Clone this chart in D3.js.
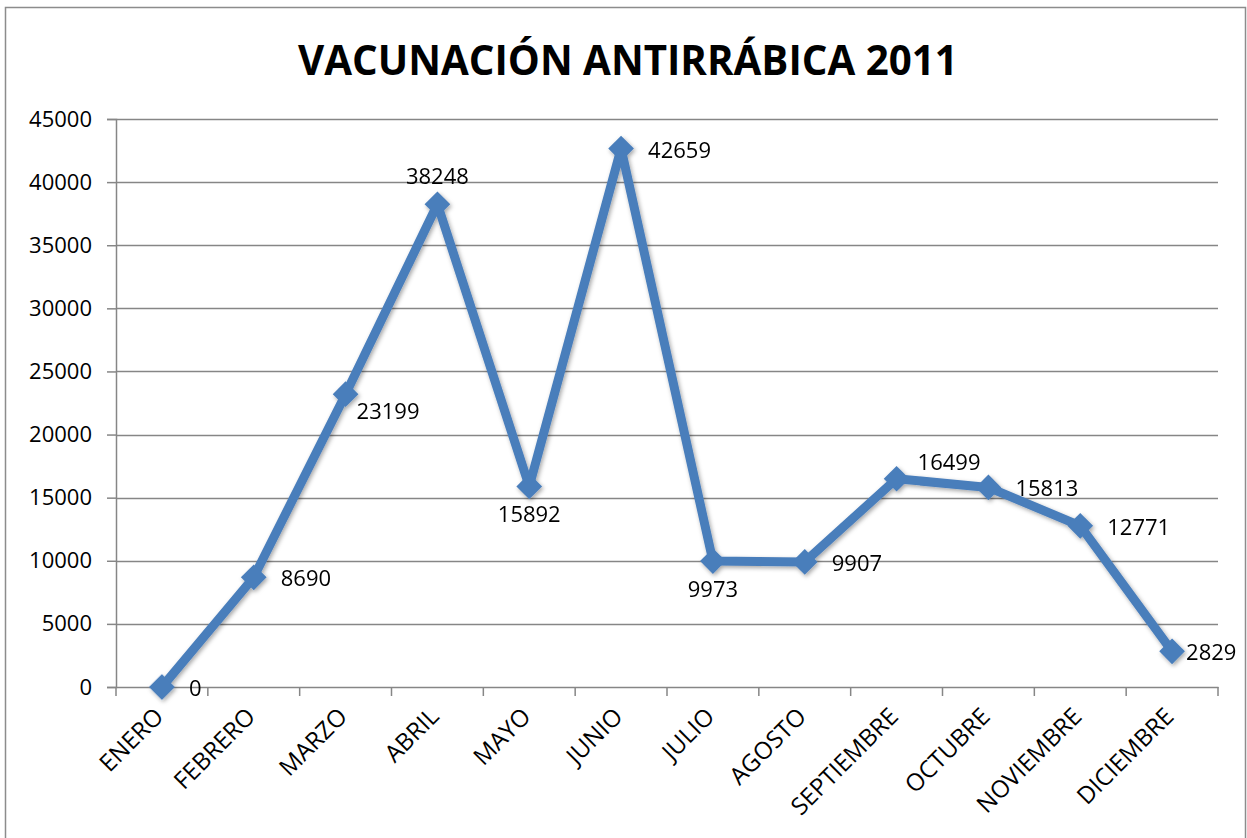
<!DOCTYPE html>
<html><head><meta charset="utf-8">
<script src="https://cdn.jsdelivr.net/npm/d3@7"></script>
<style>body{margin:0;background:#fff}svg{display:block}text{font-family:"Open Sans","Liberation Sans",sans-serif}</style>
</head><body><svg id="c" width="1247" height="838"></svg>
<script>
const title = "VACUNACIÓN ANTIRRÁBICA 2011";
const months = ["ENERO","FEBRERO","MARZO","ABRIL","MAYO","JUNIO","JULIO","AGOSTO","SEPTIEMBRE","OCTUBRE","NOVIEMBRE","DICIEMBRE"];
const values = [0,8690,23199,38248,15892,42659,9973,9907,16499,15813,12771,2829];
const yTicks = [0,5000,10000,15000,20000,25000,30000,35000,40000,45000];
const labelPlacement = ["right","right","belowright","above","below","right","below","right","aboveright","right","right","rightclose"];

const svg = d3.select("#c");
const m = {l:116, r:1218, t:119, b:687};
const x = d3.scaleBand().domain(months).range([m.l, m.r]);
const y = d3.scaleLinear().domain([0,45000]).range([m.b, m.t]);
const cx = d => x(d) + x.bandwidth()/2;
const FONT = "'Open Sans',sans-serif";

svg.append("rect").attr("x",5.5).attr("y",7.5).attr("width",1240).attr("height",840).attr("fill","#fff").attr("stroke","#8c8c8c").attr("stroke-width",1.5);

const t = svg.append("text").attr("x",628).attr("y",75).attr("text-anchor","middle").attr("font-weight","bold").attr("font-size",40).attr("fill","#000").text(title);
const w = t.node().getComputedTextLength();
t.attr("font-size", 40*660/w);

// grid
svg.append("g").selectAll("line").data(yTicks.filter(v=>v>0)).join("line")
  .attr("x1",m.l).attr("x2",m.r).attr("y1",d=>Math.round(y(d))+0.5).attr("y2",d=>Math.round(y(d))+0.5)
  .attr("stroke","#868686").attr("stroke-width",1.5);

const yAxis = svg.append("g").attr("transform",`translate(${m.l},0)`)
  .call(d3.axisLeft(y).tickValues(yTicks).tickSize(9).tickPadding(15).tickFormat(d3.format("d")));
yAxis.attr("font-family",FONT).attr("font-size",22);
yAxis.select(".domain").attr("stroke","#868686").attr("stroke-width",1.5);
yAxis.selectAll(".tick line").attr("stroke","#868686").attr("stroke-width",1.5);
yAxis.selectAll("text").attr("fill","#000");

const xAxis = svg.append("g").attr("transform",`translate(0,${m.b})`)
  .call(d3.axisBottom(x).tickSize(0).tickFormat(""));
xAxis.select(".domain").attr("stroke","#868686").attr("stroke-width",1.5);
xAxis.selectAll(".tick").remove();
const bounds = months.map(d=>x(d)).concat([m.r]);
svg.append("g").selectAll("line").data(bounds).join("line")
  .attr("x1",d=>d).attr("x2",d=>d).attr("y1",m.b).attr("y2",m.b+9).attr("stroke","#868686").attr("stroke-width",1.5);

svg.append("g").selectAll("text").data(months).join("text")
  .attr("transform",d=>`translate(${cx(d)+3},${m.b+31}) rotate(-45)`)
  .attr("text-anchor","end").attr("font-size",24).attr("fill","#000").text(d=>d);

const pts = months.map((d,i)=>[cx(d), y(values[i])]);
const defs = svg.append("defs");
const f = defs.append("filter").attr("id","sh").attr("x","-50%").attr("y","-50%").attr("width","200%").attr("height","200%");
f.append("feDropShadow").attr("dx",1.5).attr("dy",2).attr("stdDeviation",2).attr("flood-color","#000").attr("flood-opacity",0.35);

const g = svg.append("g").attr("filter","url(#sh)");
g.append("path").attr("d",d3.line()(pts)).attr("fill","none").attr("stroke","#4a7ebb").attr("stroke-width",9).attr("stroke-linejoin","round");
g.selectAll("path.m").data(pts).join("path").attr("class","m")
  .attr("d",d3.symbol(d3.symbolSquare, 330))
  .attr("transform",d=>`translate(${d[0]},${d[1]}) rotate(45)`).attr("fill","#4a7ebb");

svg.append("g").selectAll("text").data(values).join("text")
  .attr("font-size",22).attr("fill","#000")
  .each(function(v,i){
    const [px,py] = pts[i]; const p = labelPlacement[i]; const s = d3.select(this);
    if(p==="right") s.attr("x",px+27).attr("y",py+9).attr("text-anchor","start");
    else if(p==="rightclose") s.attr("x",px+14).attr("y",py+9).attr("text-anchor","start");
    else if(p==="above") s.attr("x",px).attr("y",py-20).attr("text-anchor","middle");
    else if(p==="below") s.attr("x",px).attr("y",py+36).attr("text-anchor","middle");
    else if(p==="belowright") s.attr("x",px+11).attr("y",py+25).attr("text-anchor","start");
    else if(p==="aboveright") s.attr("x",px+21).attr("y",py-9).attr("text-anchor","start");
    s.text(v);
  });
</script></body></html>
